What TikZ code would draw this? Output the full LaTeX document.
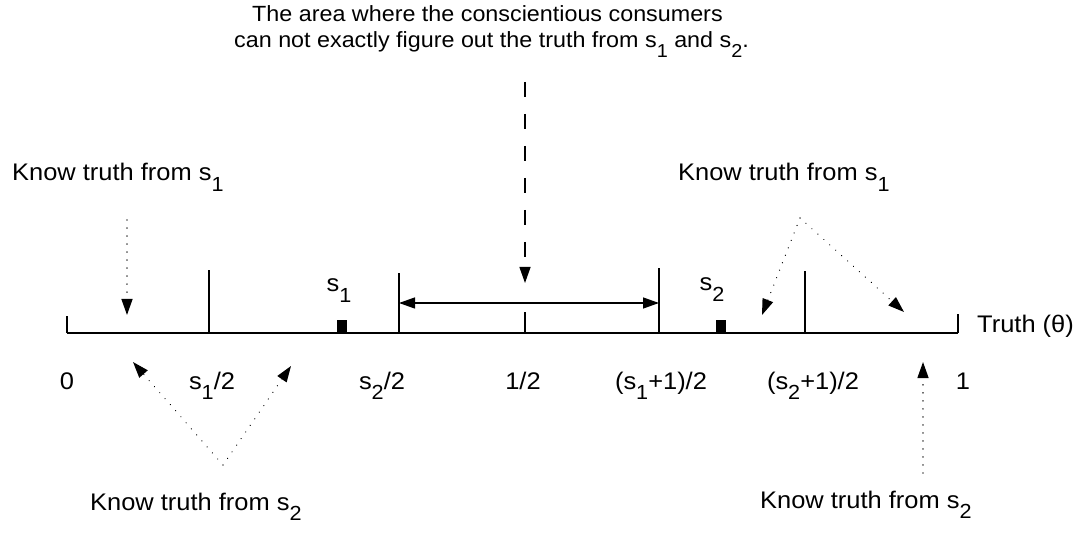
\documentclass[tikz,border=0pt]{standalone}
\usepackage{fontspec}
\setmainfont{Liberation Sans}[FakeStretch=1.06]
\usetikzlibrary{arrows.meta}
\newcommand\sub[1]{\raisebox{-0.45em}{\scalebox{0.85}{#1}}}
\begin{document}
\begin{tikzpicture}[x=1pt,y=-1pt,
  lbl/.style={font=\fontsize{24}{28}\selectfont, inner sep=0pt},
  toptxt/.style={font=\fontsize{22}{27}\selectfont, inner sep=0pt, anchor=base west},
  axisline/.style={line width=1.4pt},
  tickline/.style={line width=1.2pt},
  marker/.style={fill=black, draw=none, minimum width=10pt, minimum height=13pt, inner sep=0pt},
  tip/.style={-{Triangle[length=16pt,width=11pt]}},
  dotarrow/.style={tip, line width=1.3pt, dash pattern=on 0.01pt off 8pt, line cap=round},
  dasharrow/.style={tip, line width=1.3pt, dash pattern=on 15pt off 17pt},
  dblarrow/.style={{Triangle[length=16pt,width=11pt]}-{Triangle[length=16pt,width=11pt]}, line width=1.3pt}
]
\path[use as bounding box] (0,0) rectangle (1086,534);

% top text
\node[toptxt] (t1) at (252,22) {The area where the conscientious consumers};
\node[toptxt] (t2) at (234,48) {can not exactly figure out the truth from s\sub{1} and s\sub{2}.};

% axis
\coordinate (a0) at (67,333);
\coordinate (a1) at (958,333);
\draw[axisline] (a0) -- (a1);
\draw[tickline] (a0) -- ++(0,-17);
\draw[tickline] (a1) -- ++(0,-19);
\draw[tickline] (209,333) -- (209,270);
\draw[tickline] (399,333) -- (399,273);
\draw[tickline] (525,333) -- (525,312);
\draw[tickline] (659,333) -- (659,268);
\draw[tickline] (805,333) -- (805,271);

% markers
\node[marker] (m1) at (342,326.5) {};
\node[marker] (m2) at (720.5,326.5) {};
\node[lbl, anchor=base] (s1) at (339,292) {s\sub{1}};
\node[lbl, anchor=base] (s2) at (712,291) {s\sub{2}};

% axis labels
\node[lbl, anchor=base] (l0) at (67,389) {0};
\node[lbl, anchor=base] (l1) at (212,389) {s\sub{1}/2};
\node[lbl, anchor=base] (l2) at (382,389) {s\sub{2}/2};
\node[lbl, anchor=base] (l3) at (523,389) {1/2};
\node[lbl, anchor=base] (l4) at (661,389) {(s\sub{1}+1)/2};
\node[lbl, anchor=base] (l5) at (813,389) {(s\sub{2}+1)/2};
\node[lbl, anchor=base] (l6) at (963,389) {1};
\node[lbl, anchor=base west] (truth) at (977,333) {Truth (θ)};

% know labels
\node[lbl, anchor=base west] (k1) at (12,181) {Know truth from s\sub{1}};
\node[lbl, anchor=base west] (k2) at (678,181) {Know truth from s\sub{1}};
\node[lbl, anchor=base west] (k3) at (90,510) {Know truth from s\sub{2}};
\node[lbl, anchor=base west] (k4) at (760,508) {Know truth from s\sub{2}};

% middle region
\coordinate (d0) at (525,82);
\coordinate (d1) at (525,283);
\draw[dasharrow] (d0) -- (d1);
\coordinate (b0) at (399,303);
\coordinate (b1) at (659,303);
\draw[dblarrow] (b0) -- (b1);

% dotted arrows
\coordinate (p1) at (127,220);
\coordinate (q1) at (127,315);
\draw[dotarrow] (p1) -- (q1);

\coordinate (p2) at (800,218);
\coordinate (q2a) at (762,315);
\coordinate (q2b) at (904,312);
\draw[dotarrow] (p2) -- (q2a);
\draw[dotarrow] (p2) -- (q2b);

\coordinate (p3) at (223,465);
\coordinate (q3a) at (133,362);
\coordinate (q3b) at (291,366);
\draw[dotarrow] (p3) -- (q3a);
\draw[dotarrow] (p3) -- (q3b);

\coordinate (p4) at (923,473);
\coordinate (q4) at (923,362);
\draw[dotarrow] (p4) -- (q4);
\end{tikzpicture}
\end{document}
